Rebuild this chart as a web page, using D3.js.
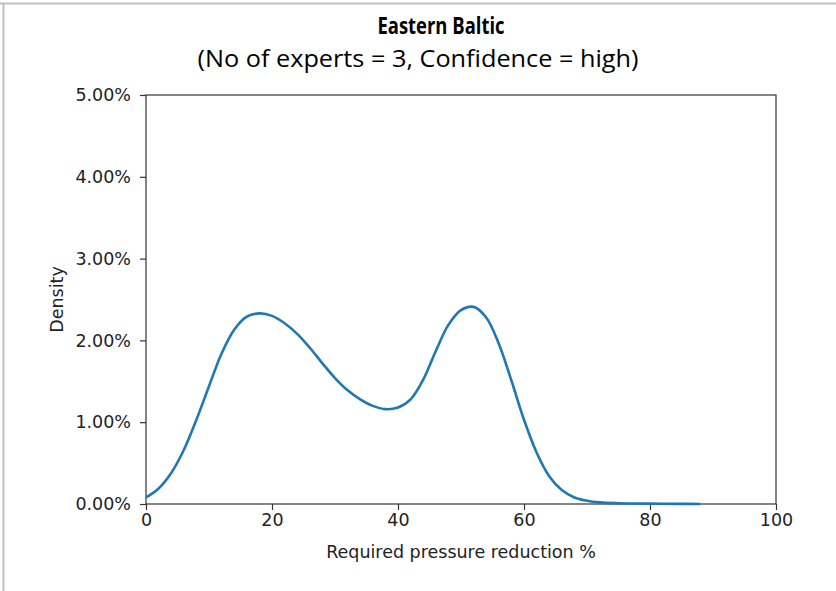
<!DOCTYPE html>
<html>
<head>
<meta charset="utf-8">
<script src="https://cdn.jsdelivr.net/npm/d3@7"></script>
<style>
body { margin: 0; background: #ffffff; }
</style>
</head>
<body>
<div id="mainCanvas"></div>
<script>
//chart texts
var title_text = "Eastern Baltic" ;
var subtitle_text = "(No of experts = 3, Confidence = high)" ;
var x_label = "Required pressure reduction %" ;
var y_label = "Density" ;

//tick values
var x_ticks = [0, 20, 40, 60, 80, 100] ;
var y_ticks = [0, 0.01, 0.02, 0.03, 0.04, 0.05] ;

//density curve (x in %, density as fraction)
var kde_x = [0, 2, 4, 6, 8, 10, 12, 14, 16, 18, 20, 22, 24, 26, 28, 30, 32, 34, 36, 38,
	     40, 42, 44, 46, 48, 50, 52, 54, 56, 58, 60, 62, 64, 66, 68, 70, 72, 75, 80, 85, 88] ;
var kde_y = [0.0008, 0.0019, 0.0038, 0.0066, 0.0103, 0.0144, 0.0184, 0.0213, 0.0229, 0.0233,
	     0.0230, 0.0221, 0.0208, 0.0191, 0.0172, 0.0154, 0.0139, 0.0128, 0.0120, 0.0116,
	     0.0118, 0.0128, 0.0152, 0.0187, 0.0219, 0.0237, 0.0241, 0.0228, 0.0196, 0.0151,
	     0.0103, 0.0063, 0.0034, 0.0017, 0.0008, 0.0004, 0.0002, 0.0001, 0.00005, 0.00002, 0] ;

function mainRenderer()
{
    var width = 836 ;
    var height = 591 ;

    var svg = d3.select("#mainCanvas").append("svg")
	.attr("width", width)
	.attr("height", height) ;

    //grey page borders (top and left)
    svg.append("line")
	.attr("x1", 0).attr("x2", width)
	.attr("y1", 3.5).attr("y2", 3.5)
	.attr("stroke", "#c0c0c0")
	.attr("stroke-width", 2) ;

    svg.append("line")
	.attr("x1", 3.5).attr("x2", 3.5)
	.attr("y1", 3).attr("y2", height)
	.attr("stroke", "#c0c0c0")
	.attr("stroke-width", 2) ;

    //plot area
    var left = 146, right = 776, top = 95, bottom = 504 ;

    var x = d3.scaleLinear().domain([0, 100]).range([left, right]) ;
    var y = d3.scaleLinear().domain([0, 0.05]).range([bottom, top]) ;

    //titles
    svg.append("text")
	.attr("x", 441)
	.attr("y", 34)
	.attr("font-family", "Open Sans")
	.attr("font-weight", "bold")
	.attr("font-size", "24px")
	.attr("text-anchor", "middle")
	.attr("textLength", 127)
	.attr("lengthAdjust", "spacingAndGlyphs")
	.text(title_text) ;

    svg.append("text")
	.attr("x", 418)
	.attr("y", 67)
	.attr("font-family", "Open Sans")
	.attr("font-size", "24px")
	.attr("text-anchor", "middle")
	.attr("textLength", 441)
	.attr("lengthAdjust", "spacingAndGlyphs")
	.text(subtitle_text) ;

    //axes
    var xAxis = d3.axisBottom(x)
	.tickValues(x_ticks)
	.tickSize(6)
	.tickPadding(4)
	.tickFormat(d3.format("d")) ;

    var yAxis = d3.axisLeft(y)
	.tickValues(y_ticks)
	.tickSize(6)
	.tickPadding(9)
	.tickFormat(d3.format(".2%")) ;

    var gx = svg.append("g")
	.attr("transform", "translate(0," + bottom + ")")
	.call(xAxis) ;

    var gy = svg.append("g")
	.attr("transform", "translate(" + left + ",0)")
	.call(yAxis) ;

    [gx, gy].forEach(function(g) {
	g.select(".domain").remove() ;
	g.selectAll("line").attr("stroke", "#333").attr("stroke-width", 1.2) ;
	g.selectAll("text")
	    .attr("font-family", "DejaVu Sans")
	    .attr("font-size", "17.5px")
	    .attr("fill", "#222") ;
    }) ;

    //frame around the plot
    svg.append("rect")
	.attr("x", left)
	.attr("y", top)
	.attr("width", right-left)
	.attr("height", bottom-top)
	.attr("fill", "none")
	.attr("stroke", "#333")
	.attr("stroke-width", 1.2) ;

    //axis labels
    svg.append("text")
	.attr("x", x(50))
	.attr("y", 558)
	.attr("font-family", "DejaVu Sans")
	.attr("font-size", "17.5px")
	.attr("text-anchor", "middle")
	.attr("fill", "#222")
	.text(x_label) ;

    svg.append("text")
	.attr("transform", "translate(63," + y(0.025) + ") rotate(-90)")
	.attr("font-family", "DejaVu Sans")
	.attr("font-size", "17.5px")
	.attr("text-anchor", "middle")
	.attr("fill", "#222")
	.text(y_label) ;

    //density curve
    var line = d3.line()
	.x(function(d, i) { return x(kde_x[i]) ; })
	.y(function(d) { return y(d) ; })
	.curve(d3.curveCatmullRom.alpha(0.5)) ;

    svg.append("path")
	.datum(kde_y)
	.attr("d", line)
	.attr("fill", "none")
	.attr("stroke", "#1f77b4")
	.attr("stroke-width", 2.6) ;
}

mainRenderer() ;
</script>
</body>
</html>
